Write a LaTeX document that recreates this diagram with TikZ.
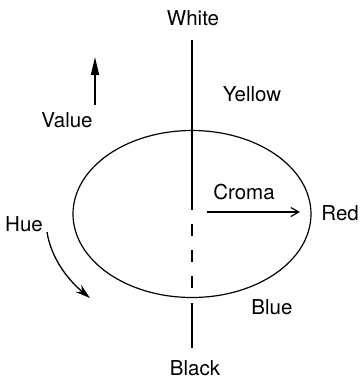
\documentclass[tikz,border=0pt]{standalone}
\usepackage{fontspec}
\setmainfont{TeX Gyre Heros}
\usetikzlibrary{arrows.meta, positioning, shapes.geometric}

\tikzset{
  lbl/.style={inner sep=0pt, font=\fontsize{20.5}{24}\selectfont},
  axis/.style={line width=1.6pt},
}

\begin{document}
\begin{tikzpicture}[x=1pt,y=-1pt]
  \useasboundingbox (0,0) rectangle (360,380);

  % Hue circle
  \node[draw,ellipse,line width=1.2pt,inner sep=0pt,outer sep=0pt,
        minimum width=238pt,minimum height=167pt] (wheel) at (192,214) {};

  % Value axis
  \coordinate (top) at (192,40);
  \coordinate (mid) at (192,210);
  \coordinate (low) at (192,303);
  \coordinate (bottom) at (192,348);
  \draw[axis] (top) -- (mid);
  \draw[axis,dash pattern=on 12pt off 14pt,dash phase=12pt] (mid) -- (wheel.south);
  \draw[axis] (low) -- (bottom);

  % Labels
  \node[lbl] (white) at (193,18) {White};
  \node[lbl] (yellow) at (252,94) {Yellow};
  \node[lbl] (value) at (67,120) {Value};
  \node[lbl] (croma) at (244,192) {Croma};
  \node[lbl,anchor=east] (red) at (359,213) {Red};
  \node[lbl] (hue) at (24,224) {Hue};
  \node[lbl] (blue) at (272,307) {Blue};
  \node[lbl] (black) at (195,368) {Black};

  % Arrows
  \coordinate (v0) at (95,105);
  \coordinate (v1) at (95,57);
  \draw[line width=1.6pt,-{Triangle[length=18pt,width=8pt]}] (v0) -- (v1);

  \coordinate (c0) at (207,212);
  \coordinate (c1) at (300,212);
  \draw[line width=1.2pt,-{Straight Barb[length=8pt,width=9pt]}] (c0) -- (c1);

  \coordinate (h0) at (47,232);
  \coordinate (h1) at (90,298);
  \draw[line width=1.3pt,-{Stealth[length=15pt,width=9pt]}]
    (h0) .. controls (51,258) and (68,280) .. (h1);
\end{tikzpicture}
\end{document}
